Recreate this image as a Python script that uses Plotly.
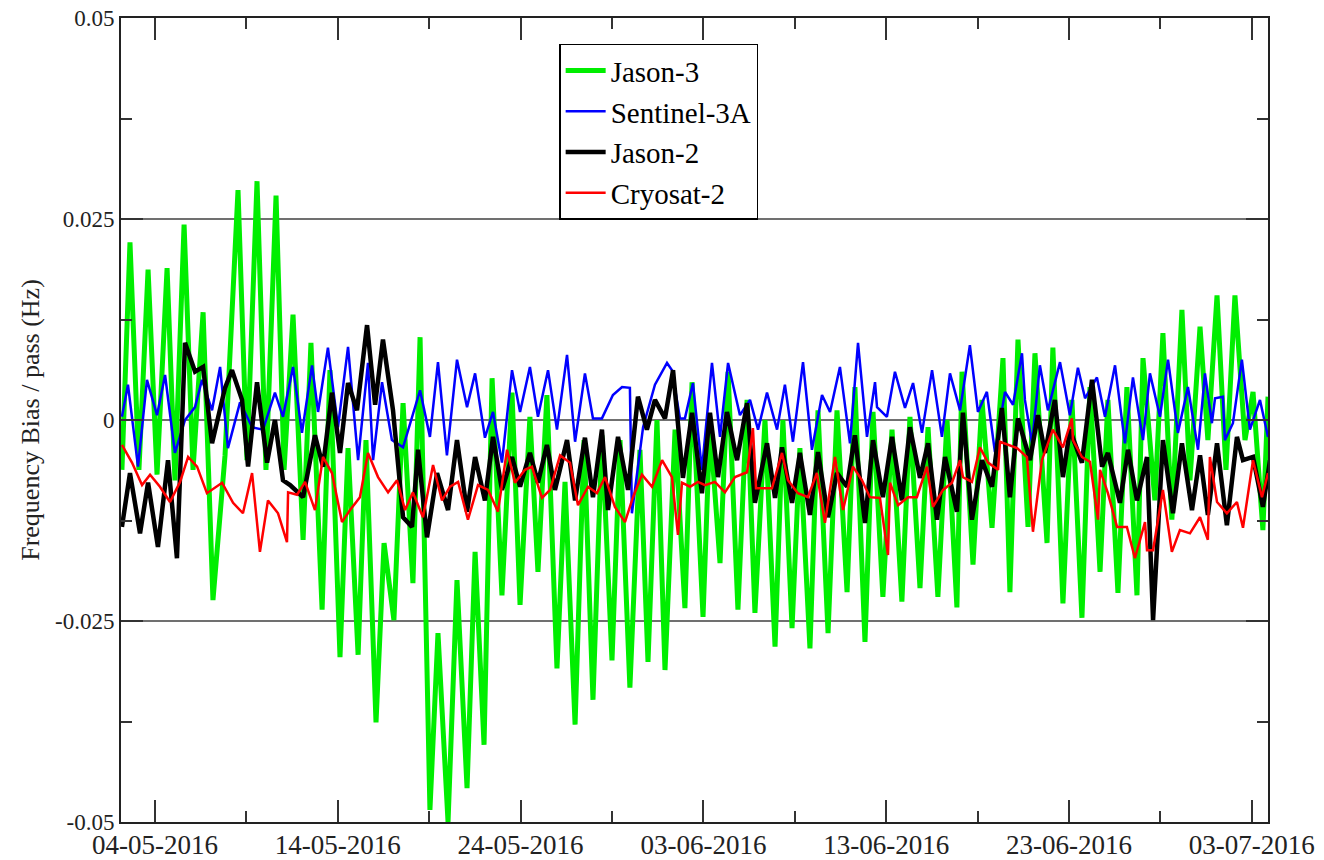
import pandas as pd
import plotly.graph_objects as go

# day offsets relative to 04-05-2016 00:00, values in Hz
jason3_day = [-1.81, -1.37, -0.88, -0.38, 0.11, 0.66, 1.09, 1.59, 2.08, 2.63, 3.17, 3.83, 4.54, 5.03, 5.58, 6.07,
              6.62, 7.06, 7.55, 8.10, 8.53, 9.14, 9.57, 10.12, 10.56, 11.11, 11.54, 12.09, 12.53, 13.07, 13.57,
              14.11, 14.50, 15.04, 15.48, 16.03, 16.52, 17.07, 17.51, 18.00, 18.44, 18.98, 19.53, 19.97, 20.51,
              20.95, 21.44, 21.99, 22.43, 22.98, 23.47, 23.96, 24.45, 25.00, 25.44, 25.98, 26.53, 26.97, 27.46,
              27.90, 28.45, 28.99, 29.38, 29.98, 30.36, 30.91, 31.35, 31.89, 32.39, 32.82, 33.37, 33.92, 34.35,
              34.85, 35.28, 35.83, 36.27, 36.82, 37.31, 37.86, 38.29, 38.84, 39.28, 39.82, 40.32, 40.86, 41.30,
              41.85, 42.29, 42.83, 43.33, 43.87, 44.15, 44.75, 45.24, 45.79, 46.39, 46.77, 47.21, 47.76, 48.14,
              48.80, 49.12, 49.67, 50.16, 50.71, 51.15, 51.70, 52.13, 52.68, 53.17, 53.72, 54.05, 54.70, 55.14,
              55.63, 56.18, 56.62, 57.17, 57.60, 58.10, 58.59, 59.08, 59.63, 60.07, 60.61, 60.89]
jason3_val = [-0.0062, 0.0221, -0.0062, 0.0187, -0.0068, 0.0189, -0.0075, 0.0243, -0.0062, 0.0134, -0.0224,
              -0.0044, 0.0286, -0.0050, 0.0297, -0.0062, 0.0279, -0.0062, 0.0131, -0.0149, 0.0096, -0.0236,
              0.0062, -0.0295, -0.0035, -0.0292, -0.0025, -0.0376, -0.0153, -0.0249, 0.0021, -0.0203, 0.0103,
              -0.0485, -0.0265, -0.0500, -0.0199, -0.0458, -0.0164, -0.0404, 0.0052, -0.0218, 0.0034, -0.0230,
              0.0004, -0.0189, 0.0031, -0.0309, -0.0077, -0.0379, -0.0025, -0.0348, -0.0019, -0.0299, -0.0025,
              -0.0333, -0.0037, -0.0301, 0.0000, -0.0311, -0.0012, -0.0234, 0.0047, -0.0245, -0.0006, -0.0178,
              0.0060, -0.0236, 0.0025, -0.0240, 0.0000, -0.0282, 0.0000, -0.0259, -0.0035, -0.0284, 0.0012,
              -0.0265, 0.0012, -0.0214, 0.0041, -0.0276, 0.0010, -0.0220, -0.0012, -0.0226, 0.0004, -0.0209,
              -0.0009, -0.0220, 0.0000, -0.0233, 0.0060, -0.0180, 0.0025, -0.0134, 0.0077, -0.0214, 0.0100,
              -0.0133, 0.0083, -0.0153, 0.0090, -0.0228, 0.0025, -0.0246, 0.0041, -0.0189, 0.0025, -0.0215,
              0.0041, -0.0218, 0.0077, -0.0100, 0.0108, -0.0124, 0.0137, -0.0075, 0.0116, -0.0025, 0.0155,
              -0.0062, 0.0155, -0.0025, 0.0035, -0.0137, 0.0029]

sentinel3a_day = [-1.81, -1.48, -0.93, -0.44, 0.11, 0.55, 1.09, 1.64, 2.19, 2.57, 3.12, 3.56, 3.99, 4.65, 5.31,
                  5.91, 6.56, 7.00, 7.55, 8.04, 8.59, 8.92, 9.46, 10.01, 10.56, 11.11, 11.65, 11.93, 12.42, 12.96,
                  13.57, 14.50, 15.04, 15.48, 15.97, 16.52, 17.07, 17.51, 18.05, 18.49, 18.98, 19.53, 19.97, 20.51,
                  20.95, 21.50, 21.99, 22.54, 22.98, 23.52, 23.96, 24.45, 25.05, 25.55, 25.98, 26.09, 26.70, 27.35,
                  28.01, 28.28, 28.72, 28.99, 29.43, 29.92, 30.47, 30.91, 31.35, 32.00, 32.55, 32.99, 33.48, 34.03,
                  34.46, 34.90, 35.45, 35.94, 36.49, 36.93, 37.47, 38.02, 38.46, 38.95, 39.39, 39.50, 40.04, 40.48,
                  41.03, 41.47, 41.96, 42.51, 43.05, 43.49, 44.04, 44.58, 45.02, 45.51, 45.95, 46.50, 46.94, 47.43,
                  47.59, 47.98, 48.41, 48.85, 49.51, 50.05, 50.49, 50.88, 51.53, 51.97, 52.52, 53.06, 53.50, 54.05,
                  54.43, 54.98, 55.42, 55.96, 56.51, 57.06, 57.44, 57.82, 57.99, 58.42, 58.53, 58.97, 59.46, 59.90,
                  60.45, 60.89]
sentinel3a_val = [0.0004, 0.0044, -0.0058, 0.0050, 0.0006, 0.0056, -0.0041, 0.0000, 0.0016, 0.0050, 0.0012,
                  0.0066, -0.0035, 0.0022, -0.0009, -0.0012, 0.0034, 0.0004, 0.0066, -0.0016, 0.0068, 0.0010,
                  0.0090, -0.0009, 0.0091, -0.0050, 0.0071, -0.0050, 0.0047, -0.0025, -0.0034, 0.0037, -0.0021,
                  0.0072, -0.0044, 0.0075, 0.0016, 0.0058, -0.0022, 0.0010, -0.0053, 0.0062, 0.0010, 0.0066,
                  0.0004, 0.0062, -0.0012, 0.0081, -0.0027, 0.0058, 0.0002, 0.0002, 0.0031, 0.0041, 0.0040,
                  -0.0116, -0.0009, 0.0044, 0.0071, 0.0062, 0.0002, 0.0002, 0.0046, -0.0062, 0.0071, -0.0021,
                  0.0071, 0.0006, 0.0025, -0.0012, 0.0034, -0.0012, 0.0044, -0.0027, 0.0072, -0.0037, 0.0031,
                  0.0010, 0.0066, -0.0029, 0.0096, -0.0021, 0.0047, 0.0016, 0.0004, 0.0060, 0.0015, 0.0046,
                  -0.0016, 0.0062, -0.0021, 0.0058, 0.0012, 0.0093, 0.0010, 0.0035, -0.0040, 0.0035, 0.0019,
                  0.0083, 0.0025, -0.0029, 0.0068, 0.0012, 0.0072, 0.0006, 0.0065, 0.0027, 0.0053, 0.0004,
                  0.0068, -0.0029, 0.0053, -0.0025, 0.0058, 0.0004, 0.0075, -0.0016, 0.0041, -0.0037, 0.0058,
                  -0.0004, 0.0027, 0.0029, -0.0025, -0.0004, 0.0075, -0.0012, 0.0025, -0.0021]

jason2_day = [-1.81, -1.37, -0.82, -0.38, 0.16, 0.71, 1.20, 1.64, 2.19, 2.63, 3.12, 3.83, 4.21, 4.76, 5.09, 5.58,
              6.13, 6.56, 7.00, 7.39, 8.10, 8.75, 9.19, 9.68, 10.12, 10.56, 11.05, 11.60, 12.04, 12.47, 13.02,
              13.57, 14.06, 14.39, 14.88, 15.43, 16.03, 16.52, 17.07, 17.51, 18.05, 18.49, 18.98, 19.53, 19.97,
              20.51, 20.95, 21.44, 21.88, 22.54, 22.98, 23.52, 23.96, 24.45, 24.78, 25.33, 25.88, 26.42, 26.91,
              27.35, 27.90, 28.34, 28.88, 29.38, 29.92, 30.36, 30.80, 31.29, 31.84, 32.39, 32.82, 33.48, 33.92,
              34.30, 34.85, 35.28, 35.83, 36.27, 36.82, 37.31, 37.86, 38.29, 38.84, 39.28, 39.82, 40.32, 40.86,
              41.30, 41.85, 42.29, 42.78, 43.22, 43.87, 44.20, 44.69, 45.24, 45.79, 46.33, 46.77, 47.21, 47.87,
              48.30, 48.69, 49.23, 49.67, 50.05, 50.71, 51.26, 51.81, 52.13, 52.79, 53.23, 53.72, 54.27, 54.60,
              55.14, 55.69, 56.18, 56.73, 57.17, 57.60, 58.10, 58.64, 59.19, 59.52, 60.07, 60.61, 61.00]
jason2_val = [-0.0133, -0.0066, -0.0141, -0.0078, -0.0158, -0.0050, -0.0172, 0.0096, 0.0060, 0.0066, -0.0029,
              0.0040, 0.0062, 0.0025, -0.0058, 0.0047, -0.0053, 0.0000, -0.0075, -0.0081, -0.0096, -0.0019,
              -0.0058, 0.0034, -0.0041, 0.0046, 0.0012, 0.0118, 0.0019, 0.0100, 0.0012, -0.0121, -0.0133,
              -0.0037, -0.0146, -0.0066, -0.0112, -0.0025, -0.0114, -0.0046, -0.0100, -0.0021, -0.0087, -0.0046,
              -0.0083, -0.0041, -0.0078, -0.0031, -0.0087, -0.0025, -0.0100, -0.0022, -0.0096, -0.0012, -0.0112,
              -0.0021, -0.0087, 0.0029, -0.0012, 0.0025, 0.0002, 0.0062, -0.0072, 0.0009, -0.0091, 0.0009,
              -0.0071, 0.0010, -0.0050, 0.0021, -0.0103, -0.0029, -0.0097, -0.0034, -0.0103, -0.0041, -0.0118,
              -0.0040, -0.0121, -0.0066, -0.0083, -0.0019, -0.0128, -0.0025, -0.0096, -0.0021, -0.0100, -0.0009,
              -0.0072, -0.0029, -0.0124, -0.0046, -0.0114, 0.0009, -0.0124, -0.0050, -0.0083, 0.0015, -0.0096,
              0.0002, -0.0050, 0.0006, -0.0041, 0.0025, -0.0071, -0.0012, -0.0053, 0.0050, -0.0058, -0.0041,
              -0.0103, -0.0037, -0.0100, -0.0046, -0.0249, -0.0025, -0.0116, -0.0029, -0.0112, -0.0044, -0.0118,
              -0.0029, -0.0131, -0.0021, -0.0050, -0.0046, -0.0108, -0.0050]

cryosat2_day = [-1.81, -1.26, -0.71, -0.27, 0.27, 0.82, 1.37, 1.81, 2.30, 2.84, 3.67, 4.27, 4.81, 5.31, 5.74,
                6.18, 6.73, 7.22, 7.28, 7.77, 8.21, 8.75, 9.19, 9.68, 10.23, 10.67, 11.21, 11.65, 12.20, 12.75,
                13.24, 13.68, 14.11, 14.66, 15.21, 15.70, 16.14, 16.58, 17.12, 17.67, 18.22, 18.76, 19.26, 19.69,
                20.24, 20.62, 21.17, 21.61, 22.16, 22.70, 23.14, 23.69, 24.18, 24.62, 25.16, 25.71, 26.15, 26.64,
                27.19, 27.74, 28.28, 28.61, 28.83, 29.27, 29.70, 30.09, 30.63, 31.18, 31.73, 32.39, 32.71, 32.88,
                33.21, 33.75, 34.30, 34.63, 35.17, 35.72, 36.21, 36.65, 37.20, 37.64, 38.18, 38.68, 39.11, 39.66,
                40.10, 40.21, 40.65, 41.19, 41.68, 42.23, 42.56, 43.11, 43.60, 44.04, 44.20, 44.69, 45.13, 45.57,
                46.12, 46.23, 47.16, 47.70, 48.03, 48.52, 49.12, 49.67, 50.16, 50.22, 50.71, 51.15, 51.59, 51.70,
                52.13, 52.63, 53.17, 53.61, 54.16, 54.27, 54.60, 55.14, 55.63, 56.07, 56.62, 57.17, 57.60, 57.71,
                58.10, 58.64, 59.19, 59.52, 60.07, 60.56, 60.89]
cryosat2_val = [-0.0031, -0.0053, -0.0081, -0.0068, -0.0083, -0.0102, -0.0077, -0.0046, -0.0058, -0.0091,
                -0.0078, -0.0103, -0.0116, -0.0066, -0.0164, -0.0100, -0.0116, -0.0152, -0.0090, -0.0093,
                -0.0077, -0.0112, -0.0046, -0.0066, -0.0127, -0.0112, -0.0096, -0.0041, -0.0071, -0.0090,
                -0.0075, -0.0112, -0.0090, -0.0121, -0.0056, -0.0100, -0.0083, -0.0077, -0.0124, -0.0081,
                -0.0087, -0.0114, -0.0037, -0.0078, -0.0062, -0.0058, -0.0097, -0.0087, -0.0044, -0.0053,
                -0.0106, -0.0083, -0.0091, -0.0071, -0.0108, -0.0127, -0.0096, -0.0068, -0.0083, -0.0050,
                -0.0071, -0.0143, -0.0078, -0.0083, -0.0077, -0.0081, -0.0077, -0.0090, -0.0071, -0.0065,
                -0.0010, -0.0085, -0.0085, -0.0085, -0.0041, -0.0075, -0.0091, -0.0096, -0.0066, -0.0128,
                -0.0046, -0.0112, -0.0058, -0.0075, -0.0096, -0.0097, -0.0168, -0.0078, -0.0106, -0.0096,
                -0.0096, -0.0058, -0.0108, -0.0087, -0.0078, -0.0050, -0.0071, -0.0077, -0.0034, -0.0053,
                -0.0062, -0.0027, -0.0035, -0.0046, -0.0139, -0.0050, -0.0012, -0.0034, 0.0002, -0.0025,
                -0.0046, -0.0052, -0.0124, -0.0062, -0.0091, -0.0133, -0.0133, -0.0172, -0.0127, -0.0162,
                -0.0162, -0.0087, -0.0164, -0.0137, -0.0141, -0.0121, -0.0149, -0.0046, -0.0102, -0.0116,
                -0.0102, -0.0134, -0.0050, -0.0096, -0.0066]

y_tick_vals = [0.05, 0.025, 0, -0.025, -0.05]
y_tick_text = ["0.05", "0.025", "0", "-0.025", "-0.05"]

base = pd.Timestamp("2016-05-04")


def to_dates(days):
    return base + pd.to_timedelta(days, unit="D")


series = [
    ("Jason-3", jason3_day, jason3_val, "#00ee00", 5),
    ("Sentinel-3A", sentinel3a_day, sentinel3a_val, "#0000ff", 2.5),
    ("Jason-2", jason2_day, jason2_val, "#000000", 4.5),
    ("Cryosat-2", cryosat2_day, cryosat2_val, "#ff0000", 2.5),
]

fig = go.Figure()
for name, d, v, col, w in series:
    fig.add_trace(go.Scatter(x=to_dates(d), y=v, mode="lines", name=name,
                             line=dict(color=col, width=w)))

font_family = "Liberation Serif, Times New Roman, serif"
fig.update_layout(
    width=1324, height=860,
    margin=dict(l=121, r=56, t=18, b=38),
    paper_bgcolor="white", plot_bgcolor="white",
    font=dict(family=font_family, color="black", size=24),
    showlegend=True,
    legend=dict(x=0.382, y=0.968, xanchor="left", yanchor="top",
                bgcolor="white", bordercolor="black", borderwidth=1.5,
                font=dict(family=font_family, size=29, color="black"),
                tracegroupgap=0, itemwidth=40),
    xaxis=dict(
        type="date", automargin=False,
        range=["2016-05-02 03:20", "2016-07-03 21:20"],
        tick0="2016-05-04", dtick=10 * 86400000, tickformat="%d-%m-%Y",
        ticks="inside", ticklen=22, tickwidth=2, tickcolor="#333",
        minor=dict(dtick=5 * 86400000, tick0="2016-05-04", ticks="inside", ticklen=11,
                   tickwidth=2, tickcolor="#333"),
        showline=True, linecolor="#222", linewidth=2, mirror="allticks",
        showgrid=False, zeroline=False, ticklabelstandoff=-2,
        tickfont=dict(family=font_family, size=27, color="#222"),
    ),
    yaxis=dict(
        range=[-0.05, 0.05], automargin=False,
        tickmode="array", tickvals=y_tick_vals, ticktext=y_tick_text,
        ticks="inside", ticklen=22, tickwidth=2, tickcolor="#333",
        minor=dict(dtick=0.0125, tick0=0, ticks="inside", ticklen=11, tickwidth=2, tickcolor="#333"),
        showline=True, linecolor="#222", linewidth=2, mirror="allticks",
        showgrid=True, gridcolor="#707070", gridwidth=2, zeroline=False,
        tickfont=dict(family=font_family, size=23, color="#222"),
        title=dict(text="Frequency Bias / pass (Hz)", font=dict(family=font_family, size=26, color="#222"),
                   standoff=8),
    ),
)

fig.write_html("out.html", config={"displayModeBar": False},
               post_script="document.body.style.margin='0px';document.body.style.padding='0px';")
